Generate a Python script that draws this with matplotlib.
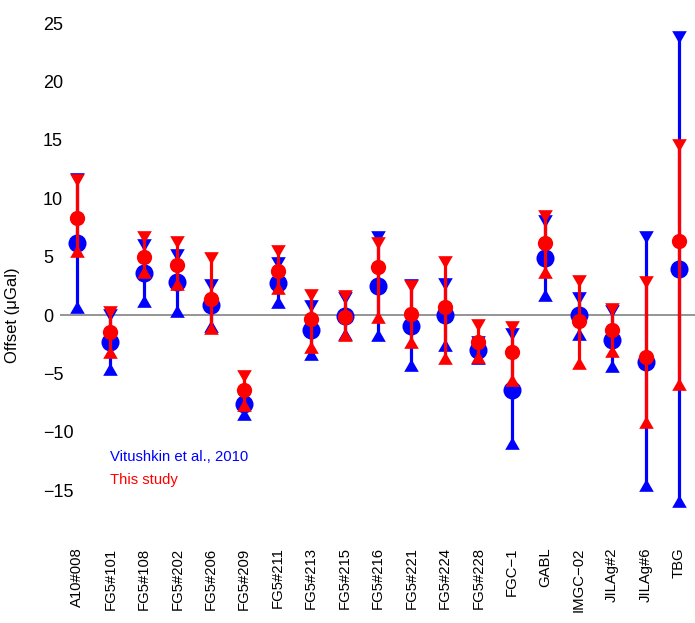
import matplotlib
matplotlib.use("Agg")
import matplotlib.pyplot as plt
import numpy as np

plt.rcParams['font.family'] = ['Liberation Sans', 'DejaVu Sans']

instruments = ["A10#008", "FG5#101", "FG5#108", "FG5#202", "FG5#206", "FG5#209",
               "FG5#211", "FG5#213", "FG5#215", "FG5#216", "FG5#221", "FG5#224",
               "FG5#228", "FGC\u22121", "GABL", "IMGC\u221202", "JILAg#2", "JILAg#6", "TBG"]

# Vitushkin et al., 2010
vit_val = [6.15, -2.3, 3.6, 2.8, 0.85, -7.65, 2.75, -1.25, -0.05, 2.45, -0.95, 0.0,
           -3.0, -6.4, 4.87, 0.0, -2.1, -4.05, 3.95]
vit_lo = [0.65, -4.6, 1.2, 0.35, -0.9, -8.45, 1.1, -3.35, -1.6, -1.7, -4.3, -2.55,
          -3.7, -10.95, 1.75, -1.6, -4.4, -14.6, -15.9]
vit_hi = [11.65, 0.0, 6.0, 5.1, 2.6, -6.85, 4.5, 0.8, 1.45, 6.7, 2.55, 2.65,
          -2.3, -1.6, 8.05, 1.5, 0.35, 6.65, 23.8]

# This study
this_val = [8.35, -1.45, 5.0, 4.3, 1.35, -6.45, 3.8, -0.35, -0.15, 4.15, 0.1, 0.65,
            -2.3, -3.15, 6.2, -0.5, -1.3, -3.6, 6.35]
this_lo = [5.5, -3.2, 3.7, 2.65, -1.1, -7.75, 2.35, -2.75, -1.75, -0.2, -2.35, -3.7,
           -3.6, -5.6, 3.7, -4.1, -3.05, -9.2, -5.9]
this_hi = [11.6, 0.25, 6.7, 6.25, 4.9, -5.2, 5.5, 1.7, 1.65, 6.15, 2.5, 4.55,
           -0.85, -1.05, 8.5, 2.95, 0.55, 2.8, 14.6]

yticks = [-15, -10, -5, 0, 5, 10, 15, 20, 25]

W, H = 695, 623
fig = plt.figure(figsize=(W / 100, H / 100), dpi=100)
ax = fig.add_axes([60 / W, (H - 513.4) / H, 635 / W, 501.8 / H])

x = np.arange(1, len(instruments) + 1)

tri_up = [(0, 0.866), (-1, -0.866), (1, -0.866)]
tri_dn = [(0, -0.866), (-1, 0.866), (1, 0.866)]

ax.axhline(0, color='#8c8c8c', lw=1.3, zorder=1)


def draw(val, lo, hi, col, ms, z):
    ax.vlines(x, lo, hi, color=col, lw=2.3, zorder=z)
    ax.plot(x, hi, ls='none', marker=tri_dn, ms=10.5, color=col, mec='none', zorder=z)
    ax.plot(x, lo, ls='none', marker=tri_up, ms=10.5, color=col, mec='none', zorder=z)
    ax.plot(x, val, ls='none', marker='o', ms=ms, color=col, mec='none', zorder=z)


draw(vit_val, vit_lo, vit_hi, 'blue', 13, 2)
draw(this_val, this_lo, this_hi, 'red', 11, 3)

ax.set_xlim(0.49, 19.48)
ax.set_ylim(-17, 26)
ax.set_yticks(yticks)
ax.set_yticklabels([str(t).replace('-', '\u2212') for t in yticks], ha='left')
ax.tick_params(axis='y', length=0, pad=12.2, labelsize=13)
ax.set_xticks(x)
ax.set_xticklabels(instruments, rotation=90)
ax.tick_params(axis='x', length=0, pad=24.5, labelsize=10.7)
for s in ax.spines.values():
    s.set_visible(False)

fig.text(13 / W, 1 - 315 / H, "Offset (\u03bcGal)", rotation=90, ha='center', va='center',
         fontsize=12)
fig.text(110 / W, 1 - 457 / H, "Vitushkin et al., 2010", color='blue', fontsize=10.7,
         ha='left', va='center')
fig.text(110 / W, 1 - 480 / H, "This study", color='red', fontsize=10.7,
         ha='left', va='center')

fig.savefig("out.png", dpi=100)
